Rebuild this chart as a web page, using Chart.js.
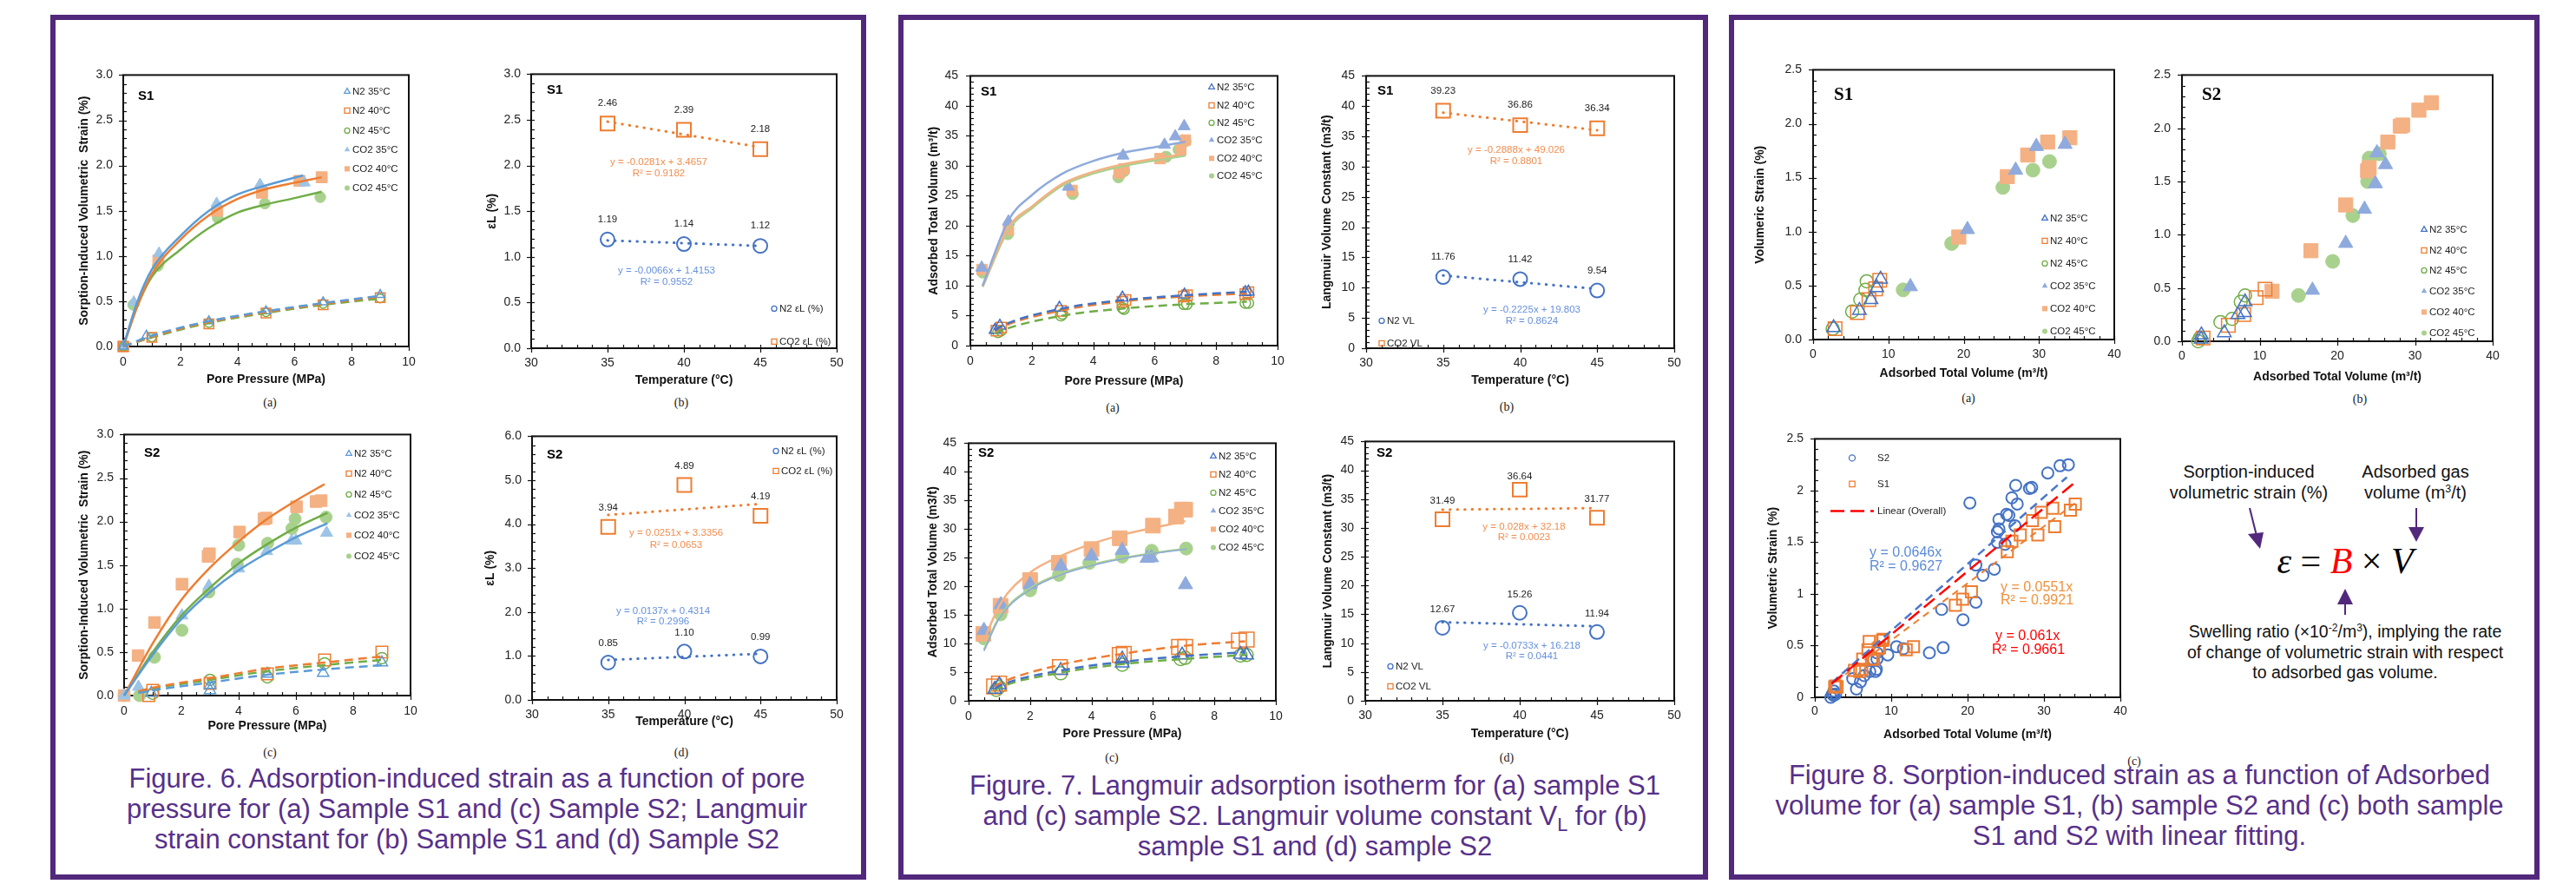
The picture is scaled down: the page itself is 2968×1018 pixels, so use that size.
<!DOCTYPE html>
<html lang="en">
<head>
<meta charset="UTF-8">
<title>Sorption-induced strain and Langmuir adsorption (Figures 6-8)</title>
<script src="https://cdn.jsdelivr.net/npm/chart.js@4.4.1/dist/chart.umd.min.js"></script>
<style>
  body { margin:0; width:2968px; height:1018px; position:relative; overflow:hidden; background:#fff;
         font-family:"Liberation Sans", Arial, sans-serif; }
  canvas { position:absolute; }
  .frame { position:absolute; border:6px solid #52287c; box-sizing:border-box; }
  .sub { position:absolute; font-family:"Liberation Serif", serif; font-size:14px; color:#222;
         transform:translate(-50%,-50%); white-space:nowrap; }
  .cap { position:absolute; width:1000px; margin-left:-500px; text-align:center; white-space:nowrap;
         font-size:31px; line-height:35px; color:#57308a; }
  .cap sub { font-size:70%; line-height:0; vertical-align:-0.3em; }
  .note { position:absolute; text-align:center; white-space:nowrap; color:#111; transform:translateX(-50%); }
  .note sup { font-size:62%; line-height:0; vertical-align:0.6em; }
  .eq { position:absolute; transform:translate(-50%,-50%); white-space:nowrap;
        font-family:"Liberation Serif", serif; font-size:42px; color:#000; }
  .eq i { font-style:italic; }
</style>
</head>
<body>

<div class="frame" style="left:58px; top:17px; width:940px; height:996px;"></div>
<div class="frame" style="left:1035px; top:17px; width:933px; height:996px;"></div>
<div class="frame" style="left:1992px; top:17px; width:934px; height:996px;"></div>

<div class="sub" style="left:311px; top:464px;">(a)</div>
<div class="sub" style="left:785px; top:464px;">(b)</div>
<div class="sub" style="left:311px; top:867px;">(c)</div>
<div class="sub" style="left:785px; top:867px;">(d)</div>
<div class="sub" style="left:1282px; top:470px;">(a)</div>
<div class="sub" style="left:1736px; top:469px;">(b)</div>
<div class="sub" style="left:1281px; top:873px;">(c)</div>
<div class="sub" style="left:1736px; top:873px;">(d)</div>
<div class="sub" style="left:2268px; top:459px;">(a)</div>
<div class="sub" style="left:2719px; top:460px;">(b)</div>
<div class="sub" style="left:2459px; top:877px;">(c)</div>

<div class="cap" style="left:538px; top:879px;">Figure. 6. Adsorption-induced strain as a function of pore<br>pressure for (a) Sample S1 and (c) Sample S2; Langmuir<br>strain constant for (b) Sample S1 and (d) Sample S2</div>
<div class="cap" style="left:1515px; top:887px;">Figure. 7. Langmuir adsorption isotherm for (a) sample S1<br>and (c) sample S2. Langmuir volume constant V<sub>L</sub> for (b)<br>sample S1 and (d) sample S2</div>
<div class="cap" style="left:2465px; top:875px;">Figure 8. Sorption-induced strain as a function of Adsorbed<br>volume for (a) sample S1, (b) sample S2 and (c) both sample<br>S1 and S2 with linear fitting.</div>

<div class="note" style="left:2591px; top:531px; font-size:20px; line-height:24px;">Sorption-induced<br>volumetric strain (%)</div>
<div class="note" style="left:2783px; top:531px; font-size:20px; line-height:24px;">Adsorbed gas<br>volume (m<sup>3</sup>/t)</div>
<div class="eq" style="left:2702px; top:646px;"><i>ε</i> = <i style="color:#ff0000">B</i> × <i>V</i></div>
<div class="note" style="left:2702px; top:716px; font-size:19.5px; line-height:23.5px;">Swelling ratio (×10<sup>-2</sup>/m<sup>3</sup>), implying the rate<br>of change of volumetric strain with respect<br>to adsorbed gas volume.</div>
<svg style="position:absolute; left:0; top:0;" width="2968" height="1018">
  <g stroke="#52287c" stroke-width="2" fill="#52287c">
    <line x1="2592" y1="585" x2="2600" y2="617"/>
    <polygon points="2590,615 2608,613 2604,632" stroke="none"/>
    <line x1="2784" y1="585" x2="2784" y2="610"/>
    <polygon points="2775,607 2793,607 2784,624" stroke="none"/>
    <line x1="2702" y1="708" x2="2702" y2="694"/>
    <polygon points="2693,696 2711,696 2702,678" stroke="none"/>
  </g>
</svg>

<script>
// ================= DATA =================
// Fig 6(a) sample S1: volumetric strain (%) vs pore pressure (MPa), [x, y]
const strainS1_CO2_35 = [[0,0],[0.37,0.49],[1.25,1.03],[3.27,1.58],[4.79,1.79],[6.35,1.81]];
const strainS1_CO2_40 = [[0,0],[1.23,0.95],[3.29,1.50],[4.86,1.70],[6.17,1.83],[6.95,1.87]];
const strainS1_CO2_45 = [[0,0],[0.35,0.46],[1.21,0.89],[3.31,1.42],[4.96,1.58],[6.9,1.65]];
const strainS1_N2_35 = [[0,0],[0.81,0.12],[3.0,0.28],[5.0,0.39],[7.0,0.49],[9.0,0.57]];
const strainS1_N2_40 = [[0,0],[1.0,0.10],[3.0,0.25],[5.0,0.37],[7.0,0.46],[9.0,0.54]];
const strainS1_N2_45 = [[0,0],[1.0,0.10],[3.0,0.26],[5.0,0.38],[7.0,0.47],[9.0,0.53]];
// Langmuir fit curves as drawn
const fitStrainS1_CO2_35 = [[0,0],[0.5,0.5],[1,0.85],[2,1.22],[3,1.50],[4,1.68],[5,1.78],[6.3,1.89]];
const fitStrainS1_CO2_40 = [[0,0],[0.5,0.45],[1,0.8],[2,1.18],[3,1.45],[4,1.63],[5,1.74],[6,1.81],[6.95,1.87]];
const fitStrainS1_CO2_45 = [[0,0],[0.5,0.45],[1,0.77],[2,1.07],[3,1.31],[4,1.48],[5,1.57],[6,1.64],[6.95,1.71]];
const fitStrainS1_N2_35 = [[0,0],[1,0.12],[3,0.28],[5,0.39],[7,0.48],[9,0.56]];
const fitStrainS1_N2_40 = [[0,0],[1,0.11],[3,0.27],[5,0.38],[7,0.47],[9,0.55]];
const fitStrainS1_N2_45 = [[0,0],[1,0.10],[3,0.26],[5,0.37],[7,0.46],[9,0.53]];

// Fig 6(c) sample S2
const strainS2_CO2_35 = [[0,0],[0.5,0.10],[2.02,0.92],[2.96,1.26],[4.0,1.46],[4.98,1.66],[5.85,1.78],[6.0,1.78],[7.07,1.87]];
const strainS2_CO2_40 = [[0,0],[0.49,0.46],[1.06,0.84],[2.02,1.28],[2.93,1.60],[2.98,1.63],[4.03,1.88],[4.88,2.03],[4.96,2.04],[6.02,2.17],[6.7,2.23],[6.88,2.24]];
const strainS2_CO2_45 = [[0,0],[0.54,0.0],[1.06,0.44],[2.02,0.75],[2.96,1.19],[3.95,1.51],[4.0,1.73],[5.01,1.75],[5.86,1.92],[5.97,2.03],[7.05,2.05]];
const strainS2_N2_35 = [[0.95,0.03],[3.0,0.06],[3.0,0.12],[5.0,0.25],[6.95,0.26],[9.0,0.38]];
const strainS2_N2_40 = [[0.86,0.0],[1.0,0.06],[3.0,0.14],[5.0,0.25],[7.0,0.41],[9.0,0.50]];
const strainS2_N2_45 = [[1.0,0.02],[3.0,0.18],[5.0,0.21],[7.0,0.37],[9.0,0.43]];
const fitStrainS2_CO2_35 = [[0,0],[1,0.47],[2,0.88],[3,1.19],[4,1.44],[5,1.64],[6,1.82],[7.1,1.98]];
const fitStrainS2_CO2_40 = [[0,0],[1,0.60],[2,1.10],[3,1.47],[4,1.77],[5,2.03],[6,2.24],[7,2.43]];
const fitStrainS2_CO2_45 = [[0,0],[1,0.50],[2,0.92],[3,1.24],[4,1.52],[5,1.74],[6,1.93],[7.1,2.10]];
const fitStrainS2_N2_35 = [[0.5,0.03],[1,0.06],[3,0.15],[5,0.24],[7,0.30],[9,0.35]];
const fitStrainS2_N2_40 = [[0.5,0.05],[1,0.09],[3,0.20],[5,0.31],[7,0.38],[9,0.45]];
const fitStrainS2_N2_45 = [[0.5,0.04],[1,0.08],[3,0.18],[5,0.28],[7,0.35],[9,0.41]];

// Fig 6(b),(d): Langmuir strain constant vs temperature
const tempC = [35, 40, 45];
const tempEnds = [35, 45];
const epsL_S1_N2 = [1.19, 1.14, 1.12];
const epsL_S1_CO2 = [2.46, 2.39, 2.18];
const epsL_S1_N2_trend = [1.18, 1.12];
const epsL_S1_CO2_trend = [2.48, 2.20];
const epsL_S2_N2 = [0.85, 1.10, 0.99];
const epsL_S2_CO2 = [3.94, 4.89, 4.19];
const epsL_S2_N2_trend = [0.91, 1.05];
const epsL_S2_CO2_trend = [4.21, 4.46];

// Fig 7(a) sample S1: adsorbed volume (m3/t) vs pore pressure
const volS1_CO2_35 = [[0.37,13.0],[1.24,20.7],[3.19,26.5],[4.97,31.7],[6.32,33.5],[6.67,34.9],[6.96,36.6]];
const volS1_CO2_40 = [[0.38,12.7],[1.24,19.3],[3.31,25.9],[4.84,28.8],[5.0,29.5],[6.17,31.2],[6.85,32.6],[7.0,34.3]];
const volS1_CO2_45 = [[0.4,12.2],[1.22,18.6],[3.33,25.3],[4.82,28.1],[5.0,29.1],[6.37,31.5],[6.78,32.7],[7.0,34.1]];
const volS1_N2_35 = [[0.8,2.6],[0.96,3.3],[2.9,6.3],[4.95,8.0],[6.97,8.5],[8.95,8.9],[9.05,9.0]];
const volS1_N2_40 = [[0.85,2.5],[1.0,3.0],[2.95,5.8],[4.95,7.3],[5.05,7.6],[6.95,8.2],[7.05,8.4],[8.95,8.6],[9.05,8.9]];
const volS1_N2_45 = [[0.9,2.2],[1.0,2.5],[2.95,5.0],[3.0,5.3],[4.95,6.3],[5.0,6.1],[6.95,6.9],[7.05,6.9],[8.95,7.1],[9.05,7.1]];
const fitVolS1_CO2_35 = [[0.4,10.0],[1.25,21.0],[2,25.1],[3,28.7],[4,30.8],[5,32.2],[6,33.1],[7,34.0]];
const fitVolS1_CO2_40 = [[0.4,9.9],[1.25,19.8],[2,23.2],[3,27.0],[4,29.0],[5,30.3],[6,31.2],[7,32.0]];
const fitVolS1_CO2_45 = [[0.4,9.8],[1.25,19.4],[2,22.9],[3,26.7],[4,28.7],[5,30.0],[6,30.9],[7,31.7]];
const fitVolS1_N2_35 = [[0.8,2.5],[1,3.2],[3,6.2],[5,7.6],[7,8.4],[9,9.0]];
const fitVolS1_N2_40 = [[0.8,2.3],[1,3.0],[3,5.9],[5,7.4],[7,8.2],[9,8.7]];
const fitVolS1_N2_45 = [[0.8,2.0],[1,2.5],[3,5.0],[5,6.2],[7,6.9],[9,7.3]];

// Fig 7(c) sample S2
const volS2_CO2_35 = [[0.5,12.3],[1.05,16.8],[2.0,20.3],[3.0,23.5],[4.0,25.3],[5.0,26.3],[5.81,24.9],[5.95,25.0],[7.06,20.3]];
const volS2_CO2_40 = [[0.48,11.7],[1.04,16.6],[2.0,21.1],[2.94,24.1],[4.0,26.5],[4.92,28.4],[6.0,30.6],[6.75,32.2],[6.94,33.4],[7.05,33.4]];
const volS2_CO2_45 = [[0.5,10.9],[1.04,15.1],[2.0,19.3],[2.94,22.0],[3.93,24.1],[5.0,25.2],[5.96,26.2],[7.08,26.6]];
const volS2_N2_35 = [[0.85,2.0],[1.0,2.8],[3.0,5.3],[5.0,7.3],[5.0,6.6],[6.95,8.0],[8.85,8.1],[9.05,8.0]];
const volS2_N2_40 = [[0.83,2.5],[0.99,3.0],[2.97,5.9],[4.92,8.0],[5.05,8.2],[6.85,9.4],[7.05,9.4],[8.8,10.5],[9.05,10.7]];
const volS2_N2_45 = [[0.9,1.9],[1.0,2.4],[3.0,4.8],[5.0,6.3],[6.9,7.3],[7.05,7.5],[8.85,7.9],[9.05,8.0]];
const fitVolS2_CO2_35 = [[0.5,8.7],[1,14.4],[2,19.4],[3,22.0],[4,23.6],[5,24.8],[6,25.7],[7.1,26.5]];
const fitVolS2_CO2_40 = [[0.5,10.6],[1.05,17.1],[2,22.4],[3,25.3],[4,27.4],[5,29.0],[6,30.2],[7.05,31.4]];
const fitVolS2_CO2_45 = [[0.5,8.9],[1,14.6],[2,19.6],[3,22.2],[4,23.8],[5,24.9],[6,25.8],[7.1,26.6]];
const fitVolS2_N2_35 = [[0.85,2.1],[1,2.6],[3,5.3],[5,6.8],[7,7.8],[9,8.5]];
const fitVolS2_N2_40 = [[0.85,2.5],[1,3.0],[3,6.3],[5,8.2],[7,9.6],[9,10.4]];
const fitVolS2_N2_45 = [[0.85,1.8],[1,2.3],[3,4.9],[5,6.4],[7,7.3],[9,8.0]];

// Fig 7(b),(d): Langmuir volume constant VL vs temperature
const VL_S1_N2 = [11.76, 11.42, 9.54];
const VL_S1_CO2 = [39.23, 36.86, 36.34];
const VL_S1_N2_trend = [12.02, 9.79];
const VL_S1_CO2_trend = [38.92, 36.03];
const VL_S2_N2 = [12.67, 15.26, 11.94];
const VL_S2_CO2 = [31.49, 36.64, 31.77];
const VL_S2_N2_trend = [13.65, 12.92];
const VL_S2_CO2_trend = [33.16, 33.44];

// Fig 8(a) sample S1: strain (%) vs adsorbed volume (m3/t)
const vsS1_N2_35 = [[2.73,0.11],[6.15,0.27],[7.69,0.37],[8.46,0.48],[8.96,0.56]];
const vsS1_N2_40 = [[2.92,0.10],[5.88,0.25],[7.42,0.37],[8.3,0.47],[8.85,0.55]];
const vsS1_N2_45 = [[2.6,0.10],[5.19,0.26],[6.27,0.37],[6.96,0.46],[7.12,0.54]];
const vsS1_CO2_35 = [[12.92,0.49],[20.5,1.02],[26.9,1.57],[29.65,1.79],[33.46,1.81]];
const vsS1_CO2_40 = [[19.35,0.95],[25.8,1.51],[28.5,1.71],[31.15,1.83],[34.1,1.87]];
const vsS1_CO2_45 = [[11.96,0.46],[18.4,0.89],[25.2,1.41],[29.2,1.57],[31.4,1.65]];
// Fig 8(b) sample S2
const vsS2_N2_35 = [[2.46,0.02],[2.5,0.06],[5.45,0.08],[7.2,0.25],[8.06,0.27],[8.13,0.37]];
const vsS2_N2_40 = [[2.72,0.03],[5.97,0.15],[7.95,0.25],[9.55,0.41],[10.7,0.49]];
const vsS2_N2_45 = [[2.09,0.0],[2.3,0.03],[4.96,0.18],[6.46,0.21],[7.57,0.37],[8.13,0.43]];
const vsS2_CO2_35 = [[16.8,0.48],[21.08,0.92],[23.5,1.24],[24.9,1.48],[25.1,1.77],[26.2,1.66]];
const vsS2_CO2_40 = [[11.6,0.47],[16.6,0.85],[21.08,1.28],[23.9,1.60],[24.1,1.63],[26.5,1.87],[28.1,2.02],[28.4,2.03],[30.5,2.17],[32.1,2.24]];
const vsS2_CO2_45 = [[15.0,0.43],[19.4,0.75],[22.0,1.18],[23.9,1.50],[24.1,1.72],[25.4,1.76]];
// Fig 8(c): extra S2 points only visible in the combined plot, and the linear fits
const vsS2_extra = [[20.3,1.88],[33.2,2.25],[26.3,2.05],[25.8,1.93]];
const fitS2_all = [[2.2,0.14],[33.0,2.13]];
const fitS1_all = [[2.7,0.15],[34.3,1.89]];
const fitOverall = [[2.2,0.13],[34.4,2.10]];

// ================= LAYOUT / STYLE =================
const FONT = '"Liberation Sans", Arial, sans-serif';
Chart.defaults.font.family = FONT;
Chart.defaults.color = '#1f1f1f';

const C = { blue:'#4472C4', orange:'#ED7D31', green:'#70AD47', lblue:'#8FAADC', lorange:'#F4B183',
            lgreen:'#A9D18E', sky:'#5B9BD5', lsky:'#9DC3E6', red:'#FF0000' };
const EQ_O = '#F08D4F', EQ_B = '#6690DA';
const PADT = 14, PADR = 22;

// plot-area box [left, top, right, bottom] on the page, y-axis width, x-axis height
const G = {
  f6a: { box:[142,80,471,399], l:53, b:47 },
  f6b: { box:[612,79,964,401], l:53, b:46 },
  f6c: { box:[143,494,473,801], l:54, b:44 },
  f6d: { box:[613,496,964,806], l:56, b:34 },
  f7a: { box:[1118,79,1472,398], l:50, b:50 },
  f7b: { box:[1574,80,1929,401], l:53, b:46 },
  f7c: { box:[1116,502,1470,807], l:49, b:47 },
  f7d: { box:[1573,501,1929,807], l:51, b:47 },
  f8a: { box:[2089,73,2436,391], l:69, b:48 },
  f8b: { box:[2514,79,2872,393], l:60, b:50 },
  f8c: { box:[2091,498,2443,803], l:56, b:52 }
};

const DECO = new WeakMap();

function marker(ctx, shape, x, y, r, stroke, fill, lw) {
  ctx.beginPath();
  if (shape === 'circle') ctx.arc(x, y, r, 0, Math.PI * 2);
  else if (shape === 'rect') { const s = r * Math.SQRT1_2; ctx.rect(x - s, y - s, 2 * s, 2 * s); }
  else { ctx.moveTo(x, y - r); ctx.lineTo(x + r * 0.866, y + r / 2); ctx.lineTo(x - r * 0.866, y + r / 2); ctx.closePath(); }
  if (fill) { ctx.fillStyle = fill; ctx.fill(); }
  if (stroke) { ctx.strokeStyle = stroke; ctx.lineWidth = lw || 1.3; ctx.stroke(); }
}

const decoPlugin = {
  id: 'deco',
  beforeDatasetsDraw(chart) {
    const o = DECO.get(chart.canvas); if (!o) return;
    const { ctx, chartArea: a } = chart, sx = chart.scales.x, sy = chart.scales.y;
    ctx.save();
    ctx.strokeStyle = '#111'; ctx.lineWidth = 1.2;
    const [xm, xM, ym, yM] = o.minor;
    const nx = Math.round((sx.max - sx.min) / xm);
    for (let i = 0; i <= nx; i++) {
      const v = sx.min + i * xm, p = Math.round(sx.getPixelForValue(v)) + 0.5;
      const major = Math.abs(v / xM - Math.round(v / xM)) < 1e-6;
      ctx.beginPath(); ctx.moveTo(p, a.bottom + (major ? 5 : 0)); ctx.lineTo(p, a.bottom - 4); ctx.stroke();
    }
    const ny = Math.round((sy.max - sy.min) / ym);
    for (let i = 0; i <= ny; i++) {
      const v = sy.min + i * ym, p = Math.round(sy.getPixelForValue(v)) + 0.5;
      const major = Math.abs(v / yM - Math.round(v / yM)) < 1e-6;
      ctx.beginPath(); ctx.moveTo(a.left - (major ? 5 : 0), p); ctx.lineTo(a.left + 4, p); ctx.stroke();
    }
    ctx.lineWidth = 2; ctx.strokeStyle = '#111';
    ctx.strokeRect(a.left, a.top, a.right - a.left, a.bottom - a.top);
    ctx.restore();
  },
  afterDraw(chart) {
    const o = DECO.get(chart.canvas); if (!o) return;
    const { ctx, chartArea: a } = chart, sx = chart.scales.x, sy = chart.scales.y;
    ctx.save();
    ctx.textBaseline = 'middle';
    (o.texts || []).forEach(t => {
      ctx.font = t.f || ('11.5px ' + FONT);
      ctx.fillStyle = t.c || '#111';
      ctx.textAlign = t.a || 'center';
      ctx.fillText(t.t, a.left + t.dx, a.top + t.dy);
    });
    if (o.legend) {
      const L = o.legend;
      L.rows.forEach(r => {
        const x = a.left + L.x, y = a.top + r.dy;
        if (r.line) {
          ctx.save(); ctx.strokeStyle = r.line; ctx.lineWidth = 2.5; ctx.setLineDash(r.dash || []);
          ctx.beginPath(); ctx.moveTo(a.left + r.x0, y); ctx.lineTo(a.left + r.x1, y); ctx.stroke(); ctx.restore();
        } else {
          marker(ctx, r.s, x, y, r.r || (r.s === 'rect' ? 4.3 : r.s === 'circle' ? 3 : 3.8), r.st, r.fi, 1.3);
        }
        ctx.font = '11.5px ' + FONT; ctx.fillStyle = '#222'; ctx.textAlign = 'left';
        ctx.fillText(r.text, a.left + (r.tx !== undefined ? r.tx : L.x + 6), y);
      });
    }
    (o.values || []).forEach(g => {
      ctx.font = '11.5px ' + FONT; ctx.fillStyle = '#222'; ctx.textAlign = 'center';
      g.ys.forEach((v, i) => {
        const dy = g.dys ? g.dys[i] : g.dy;
        ctx.fillText(v.toFixed(2), sx.getPixelForValue(g.xs[i]), sy.getPixelForValue(v) + dy);
      });
    });
    ctx.restore();
  }
};

function ax(min, max, step, title, fmt, pad) {
  return {
    type: 'linear', min, max,
    ticks: { stepSize: step, padding: pad, autoSkip: false, maxRotation: 0, color: '#1f1f1f',
             font: { size: 14 }, callback: v => fmt(v) },
    grid: { display: false, drawTicks: false },
    border: { display: false },
    title: { display: !!title, text: title || '', color: '#111', font: { size: 14, weight: 'bold' }, padding: 0 }
  };
}
const f0 = v => String(Math.round(v));
const f1 = v => v.toFixed(1);
const fg = v => String(+v.toFixed(2));

function xy(d) { return d.map(p => ({ x: p[0], y: p[1] })); }
function line(d, color, w, dash, cap) {
  return { data: xy(d), showLine: true, pointRadius: 0, borderColor: color, borderWidth: w,
           borderDash: dash || [], borderCapStyle: cap || 'butt', cubicInterpolationMode: 'monotone',
           fill: false, clip: false };
}
function pts(d, shape, stroke, fill, r, lw) {
  return { data: xy(d), showLine: false, pointStyle: shape, pointRadius: r,
           pointBorderColor: stroke, pointBackgroundColor: fill || 'rgba(0,0,0,0)',
           pointBorderWidth: lw || 1.5, clip: false };
}
function pairs(xs, ys) { return xs.map((x, i) => [x, ys[i]]); }

function makeChart(key, datasets, sx, sy, deco) {
  const g = G[key], [l, t, r, b] = g.box;
  const cv = document.createElement('canvas');
  const w = r - l + g.l + PADR, h = b - t + g.b + PADT;
  cv.width = w; cv.height = h;
  cv.style.left = (l - g.l) + 'px'; cv.style.top = (t - PADT) + 'px';
  cv.style.width = w + 'px'; cv.style.height = h + 'px';
  document.body.appendChild(cv);
  sx.afterFit = s => { s.height = g.b; };
  sy.afterFit = s => { s.width = g.l; };
  DECO.set(cv, deco);
  new Chart(cv, {
    type: 'scatter',
    data: { datasets },
    options: {
      responsive: false, animation: false, events: [], devicePixelRatio: 1,
      layout: { padding: { top: PADT, right: PADR, left: 0, bottom: 0 } },
      plugins: { legend: { display: false }, tooltip: { enabled: false } },
      scales: { x: sx, y: sy }
    },
    plugins: [decoPlugin]
  });
}

const SHAPES = ['triangle', 'rect', 'circle'];
const PAL6 = { n2: [C.sky, C.orange, C.green], fill: [C.lsky, C.lorange, C.lgreen], co2Line: [C.sky, C.orange, C.green], co2W: [2.5, 2.5, 2.5] };
const PAL7a = { n2: [C.blue, C.orange, C.green], fill: [C.lblue, C.lorange, C.lgreen], co2Line: [C.lblue, C.lorange, C.lgreen], co2W: [2.5, 2.5, 2.5] };
const PAL7c = { n2: [C.blue, C.orange, C.green], fill: [C.lblue, C.lorange, C.lgreen], co2Line: [C.lblue, C.lorange, C.lgreen], co2W: [1.5, 2.5, 2.5] };

function isoSets(s, pal, sz) {
  const out = [];
  s.fitCO2.forEach((d, i) => out.push(line(d, pal.co2Line[i], pal.co2W[i])));
  s.fitN2.forEach((d, i) => out.push(line(d, pal.n2[i], 2.5, [10, 6])));
  s.n2.forEach((d, i) => out.push(pts(d, SHAPES[i], pal.n2[i], null, sz.n2[i], 1.5)));
  s.co2.forEach((d, i) => out.push(pts(d, SHAPES[i], pal.fill[i], pal.fill[i], sz.co2[i], 1)));
  return out;
}
function isoLegend(x, dys, pal) {
  const names = ['N2 35°C', 'N2 40°C', 'N2 45°C', 'CO2 35°C', 'CO2 40°C', 'CO2 45°C'];
  return { x, rows: dys.map((dy, i) => i < 3
    ? { dy, s: SHAPES[i], st: pal.n2[i], text: names[i] }
    : { dy, s: SHAPES[i - 3], fi: pal.fill[i - 3], text: names[i] }) };
}
const bold = (t, dx, dy) => ({ t, dx, dy, a: 'left', f: 'bold 15px ' + FONT, c: '#000' });
const serifBold = (t, dx, dy) => ({ t, dx, dy, a: 'left', f: 'bold 21px "Liberation Serif", serif', c: '#000' });
const eq = (t, dx, dy, c) => ({ t, dx, dy, c, a: 'center', f: '11.5px ' + FONT });

function tempSets(n2, co2, n2t, co2t) {
  return [
    line(pairs(tempEnds, co2t), C.orange, 3, [0.5, 8], 'round'),
    line(pairs(tempEnds, n2t), C.blue, 3, [0.5, 8], 'round'),
    pts(pairs(tempC, co2), 'rect', C.orange, null, 11.3, 2),
    pts(pairs(tempC, n2), 'circle', C.blue, null, 8, 2)
  ];
}

// ---------- Figure 6 ----------
makeChart('f6a',
  isoSets({ fitCO2: [fitStrainS1_CO2_35, fitStrainS1_CO2_40, fitStrainS1_CO2_45],
            fitN2: [fitStrainS1_N2_35, fitStrainS1_N2_40, fitStrainS1_N2_45],
            n2: [strainS1_N2_35, strainS1_N2_40, strainS1_N2_45],
            co2: [strainS1_CO2_35, strainS1_CO2_40, strainS1_CO2_45] }, PAL6, { n2: [6, 7.8, 5], co2: [7.5, 9, 6.2] }),
  ax(0, 10, 2, 'Pore Pressure (MPa)', f0, 10), ax(0, 3, 0.5, 'Sorption-Induced Volumetric  Strain (%)', f1, 12),
  { minor: [0.5, 2, 0.1, 0.5], texts: [bold('S1', 17, 24)], legend: isoLegend(258, [19, 41, 64, 86, 108, 130], PAL6) });

makeChart('f6b', tempSets(epsL_S1_N2, epsL_S1_CO2, epsL_S1_N2_trend, epsL_S1_CO2_trend),
  ax(30, 50, 5, 'Temperature (°C)', f0, 9), ax(0, 3, 0.5, 'εL (%)', f1, 12),
  { minor: [1, 5, 0.1, 0.5],
    texts: [bold('S1', 18, 18),
            eq('y = -0.0281x + 3.4657', 147, 101, EQ_O), eq('R² = 0.9182', 147, 114, EQ_O),
            eq('y = -0.0066x + 1.4153', 156, 226, EQ_B), eq('R² = 0.9552', 156, 239, EQ_B)],
    legend: { x: 280, rows: [{ dy: 270, s: 'circle', st: C.blue, text: 'N2 εL (%)' },
                             { dy: 308, s: 'rect', st: C.orange, text: 'CO2 εL (%)' }] },
    values: [{ xs: tempC, ys: epsL_S1_CO2, dy: -23 }, { xs: tempC, ys: epsL_S1_N2, dy: -23 }] });

makeChart('f6c',
  isoSets({ fitCO2: [fitStrainS2_CO2_35, fitStrainS2_CO2_40, fitStrainS2_CO2_45],
            fitN2: [fitStrainS2_N2_35, fitStrainS2_N2_40, fitStrainS2_N2_45],
            n2: [strainS2_N2_35, strainS2_N2_40, strainS2_N2_45],
            co2: [strainS2_CO2_35, strainS2_CO2_40, strainS2_CO2_45] }, PAL6, { n2: [7.5, 9.5, 6.5], co2: [8, 9.5, 7] }),
  ax(0, 10, 2, 'Pore Pressure (MPa)', f0, 10), ax(0, 3, 0.5, 'Sorption-Induced Volumetric  Strain (%)', f1, 12),
  { minor: [0.5, 2, 0.1, 0.5], texts: [bold('S2', 23, 21)], legend: isoLegend(259, [22, 45, 69, 93, 116, 140], PAL6) });

makeChart('f6d', tempSets(epsL_S2_N2, epsL_S2_CO2, epsL_S2_N2_trend, epsL_S2_CO2_trend),
  ax(30, 50, 5, 'Temperature (°C)', f0, 8.5), ax(0, 6, 1, 'εL (%)', f1, 12),
  { minor: [1, 5, 0.2, 1],
    texts: [bold('S2', 17, 21),
            eq('y = 0.0251x + 3.3356', 166, 111, EQ_O), eq('R² = 0.0653', 166, 125, EQ_O),
            eq('y = 0.0137x + 0.4314', 151, 201, EQ_B), eq('R² = 0.2996', 151, 213, EQ_B)],
    legend: { x: 281, rows: [{ dy: 17, s: 'circle', st: C.blue, text: 'N2 εL (%)' },
                             { dy: 40, s: 'rect', st: C.orange, text: 'CO2 εL (%)' }] },
    values: [{ xs: tempC, ys: epsL_S2_CO2, dy: -22 }, { xs: tempC, ys: epsL_S2_N2, dy: -22 }] });

// ---------- Figure 7 ----------
makeChart('f7a',
  isoSets({ fitCO2: [fitVolS1_CO2_35, fitVolS1_CO2_40, fitVolS1_CO2_45],
            fitN2: [fitVolS1_N2_35, fitVolS1_N2_40, fitVolS1_N2_45],
            n2: [volS1_N2_35, volS1_N2_40, volS1_N2_45],
            co2: [volS1_CO2_35, volS1_CO2_40, volS1_CO2_45] }, PAL7a, { n2: [7.5, 8.5, 6], co2: [8, 8.5, 6.5] }),
  ax(0, 10, 2, 'Pore Pressure (MPa)', f0, 10), ax(0, 45, 5, 'Adsorbed Total Volume (m³/t)', f0, 14),
  { minor: [0.5, 2, 1, 5], texts: [bold('S1', 12, 18)], legend: isoLegend(278, [13, 34, 54, 74, 95, 115], PAL7a) });

makeChart('f7b', tempSets(VL_S1_N2, VL_S1_CO2, VL_S1_N2_trend, VL_S1_CO2_trend),
  ax(30, 50, 5, 'Temperature (°C)', f0, 9), ax(0, 45, 5, 'Langmuir Volume Constant (m3/t)', f0, 13),
  { minor: [1, 5, 1, 5],
    texts: [bold('S1', 13, 17),
            eq('y = -0.2888x + 49.026', 173, 85, EQ_O), eq('R² = 0.8801', 173, 98, EQ_O),
            eq('y = -0.2225x + 19.803', 191, 269, EQ_B), eq('R² = 0.8624', 191, 282, EQ_B)],
    legend: { x: 18, rows: [{ dy: 282, s: 'circle', st: C.blue, text: 'N2 VL' },
                            { dy: 308, s: 'rect', st: C.orange, text: 'CO2 VL' }] },
    values: [{ xs: tempC, ys: VL_S1_CO2, dy: -23 }, { xs: tempC, ys: VL_S1_N2, dy: -23 }] });

makeChart('f7c',
  isoSets({ fitCO2: [fitVolS2_CO2_35, fitVolS2_CO2_40, fitVolS2_CO2_45],
            fitN2: [fitVolS2_N2_35, fitVolS2_N2_40, fitVolS2_N2_45],
            n2: [volS2_N2_35, volS2_N2_40, volS2_N2_45],
            co2: [volS2_CO2_35, volS2_CO2_40, volS2_CO2_45] }, PAL7c, { n2: [9, 12, 7.5], co2: [9.5, 12, 7.5] }),
  ax(0, 10, 2, 'Pore Pressure (MPa)', f0, 10), ax(0, 45, 5, 'Adsorbed Total Volume (m3/t)', f0, 14),
  { minor: [0.5, 2, 1, 5], texts: [bold('S2', 11, 11)], legend: isoLegend(282, [15, 36, 57, 78, 99, 120], PAL7c) });

makeChart('f7d', tempSets(VL_S2_N2, VL_S2_CO2, VL_S2_N2_trend, VL_S2_CO2_trend),
  ax(30, 50, 5, 'Temperature (°C)', f0, 9), ax(0, 45, 5, 'Langmuir Volume Constant (m3/t)', f0, 13),
  { minor: [1, 5, 1, 5],
    texts: [bold('S2', 13, 13),
            eq('y = 0.028x + 32.18', 183, 98, EQ_O), eq('R² = 0.0023', 183, 110, EQ_O),
            eq('y = -0.0733x + 16.218', 192, 235, EQ_B), eq('R² = 0.0441', 192, 247, EQ_B)],
    legend: { x: 29, rows: [{ dy: 259, s: 'circle', st: C.blue, text: 'N2 VL' },
                            { dy: 282, s: 'rect', st: C.orange, text: 'CO2 VL' }] },
    values: [{ xs: tempC, ys: VL_S2_CO2, dys: [-21, -15, -21] }, { xs: tempC, ys: VL_S2_N2, dy: -21 }] });

// ---------- Figure 8 ----------
function vsSets(n2, co2) {
  const n2c = [C.blue, C.orange, C.green], fc = [C.lblue, C.lorange, C.lgreen];
  const r = [9, 11, 7.5];
  return [].concat(
    n2.map((d, i) => pts(d, SHAPES[i], n2c[i], null, r[i], 1.5)),
    co2.map((d, i) => pts(d, SHAPES[i], fc[i], fc[i], r[i] + 0.5, 1)));
}
const PAL8 = { n2: [C.blue, C.orange, C.green], fill: [C.lblue, C.lorange, C.lgreen] };

makeChart('f8a',
  vsSets([vsS1_N2_35, vsS1_N2_40, vsS1_N2_45], [vsS1_CO2_35, vsS1_CO2_40, vsS1_CO2_45]),
  ax(0, 40, 10, 'Adsorbed Total Volume (m³/t)', f0, 9), ax(0, 2.5, 0.5, 'Volumeric Strain (%)', f1, 13),
  { minor: [2, 10, 0.1, 0.5], texts: [serifBold('S1', 24, 29)], legend: isoLegend(267, [171, 197, 223, 249, 275, 301], PAL8) });

makeChart('f8b',
  vsSets([vsS2_N2_35, vsS2_N2_40, vsS2_N2_45], [vsS2_CO2_35, vsS2_CO2_40, vsS2_CO2_45]),
  ax(0, 40, 10, 'Adsorbed Total Volume (m³/t)', f0, 9), ax(0, 2.5, 0.5, '', f1, 13),
  { minor: [2, 10, 0.1, 0.5], texts: [serifBold('S2', 23, 23)], legend: isoLegend(279, [178, 202, 225, 249, 273, 297], PAL8) });

const allS1 = [].concat(vsS1_N2_35, vsS1_N2_40, vsS1_N2_45, vsS1_CO2_35, vsS1_CO2_40, vsS1_CO2_45);
const allS2 = [].concat(vsS2_N2_35, vsS2_N2_40, vsS2_N2_45, vsS2_CO2_35, vsS2_CO2_40, vsS2_CO2_45, vsS2_extra);
const eq16 = (t, dx, dy, c) => ({ t, dx, dy, c, a: 'left', f: '16px ' + FONT });

makeChart('f8c',
  [ line(fitOverall, C.red, 2.5, [16, 7]),
    line(fitS2_all, '#4A78CC', 2.5, [10, 6]),
    line(fitS1_all, C.orange, 2, [8, 6]),
    pts(allS1, 'rect', C.orange, null, 9.2, 2),
    pts(allS2, 'circle', C.blue, null, 6.5, 2) ],
  ax(0, 40, 10, 'Adsorbed Total Volume (m³/t)', f0, 8), ax(0, 2.5, 0.5, 'Volumetric Strain (%)', fg, 13),
  { minor: [2, 10, 0.1, 0.5],
    texts: [eq16('y = 0.0646x', 63, 131, '#5B8BD8'), eq16('R² = 0.9627', 63, 147, '#5B8BD8'),
            eq16('y = 0.0551x', 214, 171, '#F0913E'), eq16('R² = 0.9921', 214, 186, '#F0913E'),
            eq16('y = 0.061x', 208, 227, C.red), eq16('R² = 0.9661', 204, 243, C.red)],
    legend: { x: 43, rows: [{ dy: 22, s: 'circle', st: C.blue, r: 3.5, text: 'S2', tx: 72 },
                            { dy: 52, s: 'rect', st: C.orange, r: 4.5, text: 'S1', tx: 72 },
                            { dy: 83, line: C.red, dash: [16, 7], x0: 18, x1: 68, text: 'Linear (Overall)', tx: 72 }] } });
</script>
</body>
</html>
